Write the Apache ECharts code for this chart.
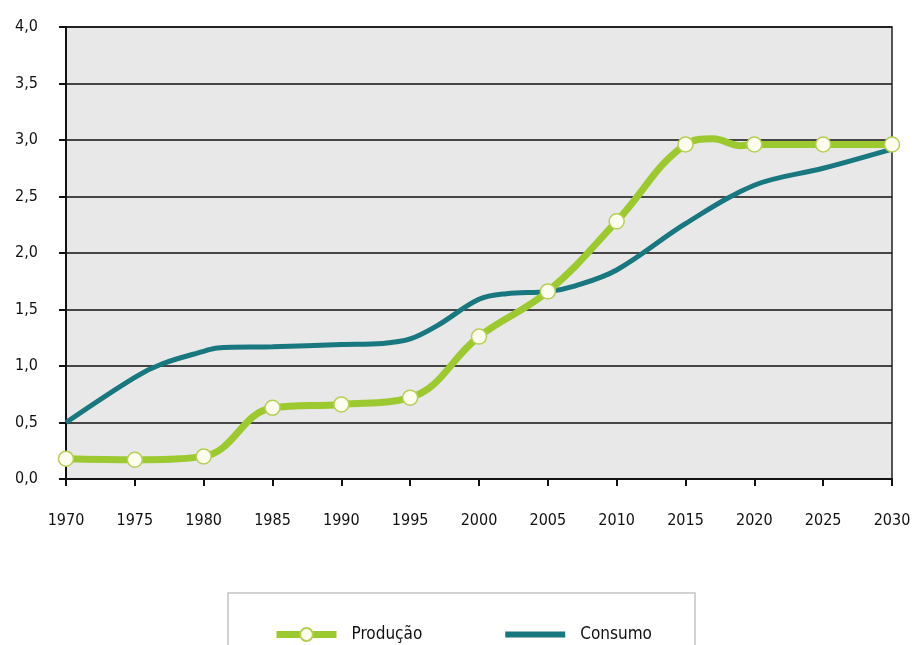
<!DOCTYPE html>
<html>
<head>
<meta charset="utf-8">
<script src="https://cdn.jsdelivr.net/npm/echarts@6/dist/echarts.min.js"></script>
<style>
  html, body { margin: 0; padding: 0; background: #fff; }
  #chart { width: 915px; height: 645px; }
</style>
</head>
<body>
<div id="chart"></div>
<script>
// Axis settings
const yearMin = 1970;
const yearMax = 2030;
const yearStep = 5;
const valueMin = 0;
const valueMax = 4;
const valueStep = 0.5;

// Produção: marked every five years, plus a few unmarked points shaping the curve
const producaoYears  = [1970, 1975, 1980, 1985, 1990, 1995, 2000, 2005, 2010, 2015, 2017, 2019, 2020, 2025, 2030];
const producaoValues = [0.18, 0.17, 0.20, 0.63, 0.66, 0.72, 1.26, 1.66, 2.28, 2.96, 3.01, 2.95, 2.96, 2.96, 2.96];
const producaoMarked = [true, true, true, true, true, true, true, true, true, true, false, false, true, true, true];

// Consumo
const consumoYears  = [1970, 1975, 1977, 1980, 1981, 1985, 1990, 1993, 1995, 1997, 2000, 2002, 2005, 2007, 2010, 2015, 2020, 2025, 2030];
const consumoValues = [0.50, 0.90, 1.02, 1.13, 1.16, 1.17, 1.19, 1.20, 1.24, 1.36, 1.59, 1.64, 1.66, 1.71, 1.85, 2.26, 2.60, 2.75, 2.92];

const green = '#9cc92f';
const teal = '#18777f';
const font = "'DejaVu Sans Condensed', 'Liberation Sans Narrow', sans-serif";

const producaoData = producaoYears.map((y, i) => (
  producaoMarked[i] ? [y, producaoValues[i]] : { value: [y, producaoValues[i]], symbol: 'none' }
));
const consumoData = consumoYears.map((y, i) => [y, consumoValues[i]]);

const chart = echarts.init(document.getElementById('chart'));
chart.setOption({
  animation: false,
  backgroundColor: '#fff',
  textStyle: { fontFamily: font },
  grid: {
    left: 66, right: 23, top: 27, bottom: 166,
    show: true,
    backgroundColor: '#e8e8e8',
    borderColor: '#222',
    borderWidth: 1.5
  },
  xAxis: {
    type: 'value',
    min: yearMin, max: yearMax, interval: yearStep,
    axisLine: { lineStyle: { color: '#111', width: 2 } },
    axisTick: { show: true, length: 7, lineStyle: { color: '#111', width: 2 } },
    axisLabel: { margin: 34, fontSize: 16, color: '#111', fontFamily: font, formatter: v => String(v) },
    splitLine: { show: false }
  },
  yAxis: {
    type: 'value',
    min: valueMin, max: valueMax, interval: valueStep,
    axisLine: { show: true, lineStyle: { color: '#111', width: 2 } },
    axisTick: { show: true, length: 7, lineStyle: { color: '#111', width: 2 } },
    axisLabel: {
      margin: 28, fontSize: 16, color: '#111', fontFamily: font,
      formatter: v => v.toFixed(1).replace('.', ',')
    },
    splitLine: { show: true, lineStyle: { color: '#111', width: 1.5 } }
  },
  graphic: [{
    type: 'rect',
    shape: { x: 228, y: 593, width: 467, height: 70 },
    style: { fill: '#fff', stroke: '#c4c4c4', lineWidth: 1.5 },
    z: 0
  }],
  legend: {
    left: 268, top: 621,
    itemWidth: 60, itemHeight: 16, itemGap: 80,
    textStyle: { fontSize: 17, color: '#111', fontFamily: font, padding: [0, 0, 0, 10] },
    data: [
      { name: 'Produção', lineStyle: { width: 7, color: green } },
      { name: 'Consumo', lineStyle: { width: 6, color: teal }, itemStyle: { opacity: 0 } }
    ]
  },
  series: [
    {
      name: 'Consumo',
      type: 'line',
      data: consumoData,
      smooth: 0.35,
      showSymbol: false,
      symbol: 'none',
      lineStyle: { color: teal, width: 5 },
      itemStyle: { color: teal },
      z: 2
    },
    {
      name: 'Produção',
      type: 'line',
      data: producaoData,
      smooth: 0.4,
      symbol: 'circle',
      symbolSize: 15,
      lineStyle: { color: green, width: 7 },
      itemStyle: { color: '#fdfdee', borderColor: '#b5cf55', borderWidth: 1.5 },
      z: 3
    }
  ]
});
</script>
</body>
</html>
